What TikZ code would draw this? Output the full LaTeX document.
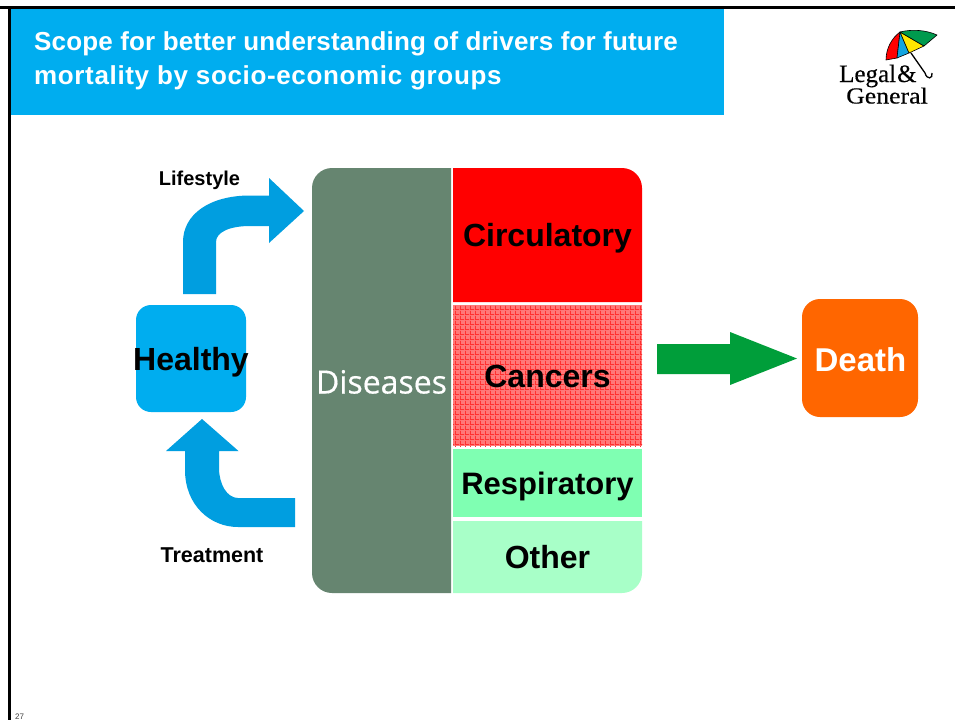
\documentclass[tikz,border=0pt]{standalone}
\usepackage{fontspec}
\setmainfont{Liberation Sans}
\newfontfamily\logofont[FakeBold=0.4]{Liberation Serif}
\newfontfamily\slidefont[FakeBold=0.5]{Open Sans}
\usetikzlibrary{positioning, patterns, backgrounds}

\definecolor{barblue}{HTML}{00ADEF}
\definecolor{arrowblue}{HTML}{009EE0}
\definecolor{diseasegreen}{HTML}{668570}
\definecolor{respgreen}{HTML}{7FFFB2}
\definecolor{othergreen}{HTML}{A8FFC8}
\definecolor{deathorange}{HTML}{FF6600}
\definecolor{bigarrow}{HTML}{009E3A}
\definecolor{cancerpink}{HTML}{FF7878}
\definecolor{cancerred}{HTML}{FF3030}
\definecolor{logogreen}{HTML}{009A4E}
\definecolor{logoblue}{HTML}{12A5E0}
\definecolor{logoyellow}{HTML}{FFE600}

\pgfdeclarepatternformonly{cancergrid}{\pgfqpoint{0pt}{0pt}}{\pgfqpoint{5pt}{5pt}}{\pgfqpoint{5pt}{5pt}}{
	\pgfpathrectangle{\pgfqpoint{0pt}{0pt}}{\pgfqpoint{5pt}{1pt}}
	\pgfpathrectangle{\pgfqpoint{0pt}{0pt}}{\pgfqpoint{1pt}{5pt}}
	\pgfusepath{fill}
}

\begin{document}
\begin{tikzpicture}[x=1pt,y=-1pt]

\tikzset{panel/.style = {rectangle, inner sep=0pt, outer sep=0pt, text centered, text height=23pt, text depth=0pt, font=\fontsize{32}{32}\selectfont\bfseries}, }
\tikzset{blockarrow/.style = {fill=arrowblue}, }
\tikzset{smalllabel/.style = {inner sep=0pt, font=\fontsize{20}{20}\selectfont\bfseries}, }
\tikzset{logotext/.style = {anchor=base west, inner sep=0pt, font=\logofont\fontsize{25}{25}\selectfont}, }
\tikzset{wedge/.style = {draw=black, line width=0.6pt, line join=round}, }

\useasboundingbox (0,0) rectangle (955,720);

% slide frame and title
\fill[barblue] (9,8) rectangle (724,115);
\fill[black] (0,6) rectangle (955,8.5);
\fill[black] (8,6) rectangle (10.5,720);
\node[anchor=west, align=left, text=white, inner sep=0pt, font=\fontsize{26}{34}\selectfont\bfseries] (title) at (34,61) {\addfontfeature{LetterSpace=0.7}Scope for better understanding of drivers for future\\\addfontfeature{LetterSpace=2.5}mortality by socio-economic groups};
\node[anchor=south west, inner sep=0pt, text=darkgray, font=\fontsize{8}{8}\selectfont] (page) at (15,720) {27};

% logo
\node[logotext] (legal) at (839,82) {Legal\hspace{1pt}\&};
\node[logotext, font=\logofont\fontsize{23}{23}\selectfont, xscale=1.12] (general) at (846,103.5) {General};
\filldraw[wedge, fill=red] (900,32) -- (897,58) -- (886,60) .. controls (886,48) and (892,38) .. cycle;
\filldraw[wedge, fill=logoblue] (900,32) -- (909,53) -- (897,58) -- cycle;
\filldraw[wedge, fill=logoyellow] (900,32) -- (924,46) -- (909,53) -- cycle;
\filldraw[wedge, fill=logogreen] (900,32) .. controls (912,29) and (926,30) .. (937,35) -- (924,46) -- cycle;
\draw[black, line width=1.3pt] (911,53) -- (925,73) .. controls (927,80) and (933,79) .. (932,73);

% main boxes
\node[panel, minimum width=110pt, minimum height=107pt, inner xsep=-5pt, fill=barblue, rounded corners=15pt] (Healthy) at (191,358.5) {Healthy};
\node[panel, minimum width=139pt, minimum height=425pt, text=white, font=\slidefont\fontsize{32}{32}\selectfont] (Dis) at (381.5,380.5) {\raisebox{-1.5pt}{Diseases}};
\node[panel, minimum width=189pt, minimum height=134pt, right=2pt of Dis.north east, anchor=north west] (Circ) {Circulatory};
\node[panel, minimum width=189pt, minimum height=141pt, below=3pt of Circ, preaction={fill=cancerpink}, pattern=cancergrid, pattern color=cancerred] (Canc) {Cancers};
\node[panel, minimum width=189pt, minimum height=68pt, below=3pt of Canc, fill=respgreen, font=\fontsize{31}{32}\selectfont\bfseries] (Resp) {Respiratory};
\node[panel, minimum width=189pt, minimum height=72pt, below=4pt of Resp] (Other) {Other};
\node[panel, minimum width=116pt, minimum height=118pt, fill=deathorange, rounded corners=18pt, text=white, font=\fontsize{33}{33}\selectfont\bfseries] (Death) at (860,358) {\raisebox{-1.5pt}{\hspace{1pt}Death}};

\begin{pgfonlayer}{background}
\fill[white] (0,0) rectangle (955,720);
\fill[diseasegreen] (Dis.north east) -- (Dis.south east) [rounded corners=20pt] -- (Dis.south west) -- (Dis.north west) [sharp corners] -- cycle;
\fill[red] (Circ.south east) [rounded corners=20pt] -- (Circ.north east) [sharp corners] -- (Circ.north west) -- (Circ.south west) -- cycle;
\fill[othergreen] (Other.north east) [rounded corners=20pt] -- (Other.south east) [sharp corners] -- (Other.south west) -- (Other.north west) -- cycle;
\end{pgfonlayer}

% arrows
\fill[blockarrow] (183,294) -- (183,242) .. controls (183,214) and (210,195.5) .. (250,195.5) -- (269,195.5) -- (269,178) -- (304,211) -- (269,243) -- (269,226) -- (250,226) .. controls (230,226) and (216,232) .. (216,242) -- (216,294) -- cycle;
\fill[blockarrow] (295,498) -- (238,498) .. controls (227,498) and (219,484) .. (219,468) -- (219,451) -- (238.5,451) -- (202,419) -- (166,451) -- (185,451) -- (185,470) .. controls (185,505) and (210,527) .. (238,527) -- (295,527) -- cycle;
\fill[bigarrow] (657,344) -- (730,344) -- (730,332) -- (797,358.5) -- (730,385) -- (730,374) -- (657,374) -- cycle;

\node[smalllabel] (life) at (199.5,180) {Lifestyle};
\node[smalllabel, font=\fontsize{21.5}{21.5}\selectfont\bfseries] (treat) at (212,555) {Treatment};

\end{tikzpicture}
\end{document}
